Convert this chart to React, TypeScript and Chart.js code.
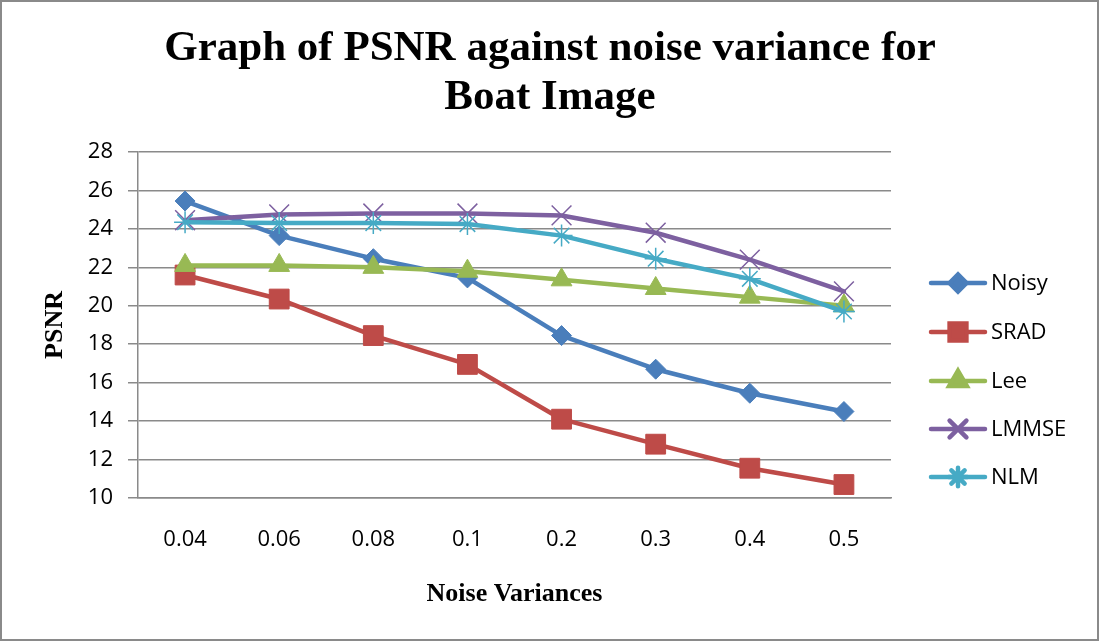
import React, { useEffect, useRef } from "react";
import { Chart, registerables } from "chart.js";
import { drawPoint } from "chart.js/helpers";

Chart.register(...registerables);

// Noise variance levels (x categories)
const variances = ["0.04", "0.06", "0.08", "0.1", "0.2", "0.3", "0.4", "0.5"];

// PSNR (dB) per filter
const noisy = [25.45, 23.65, 22.45, 21.45, 18.45, 16.7, 15.45, 14.5];
const srad = [21.6, 20.35, 18.45, 16.95, 14.1, 12.8, 11.55, 10.7];
const lee = [22.1, 22.1, 22.0, 21.8, 21.35, 20.9, 20.45, 20.0];
const lmmse = [24.45, 24.75, 24.8, 24.8, 24.7, 23.8, 22.4, 20.75];
const nlm = [24.35, 24.3, 24.3, 24.25, 23.65, 22.45, 21.4, 19.7];

const yTicks = [10, 12, 14, 16, 18, 20, 22, 24, 26, 28];

const titleLines = ["Graph of PSNR against noise variance for", "Boat Image"];
const xTitle = "Noise Variances";
const yTitle = "PSNR";

const W = 1099;
const H = 641;
const TICK_FONT = "'Open Sans', 'Liberation Sans', sans-serif";
const SERIF = "'Liberation Serif', 'Times New Roman', serif";

type SeriesStyle = {
  label: string;
  data: number[];
  color: string;
  pointStyle: string;
  radius: number;
  pointBorderWidth: number;
};

const series: SeriesStyle[] = [
  { label: "Noisy", data: noisy, color: "#4A7EBB", pointStyle: "rectRot", radius: 10, pointBorderWidth: 1 },
  { label: "SRAD", data: srad, color: "#BE4B48", pointStyle: "rect", radius: 14, pointBorderWidth: 1 },
  { label: "Lee", data: lee, color: "#98B954", pointStyle: "triangle", radius: 12, pointBorderWidth: 1 },
  { label: "LMMSE", data: lmmse, color: "#7D60A0", pointStyle: "crossRot", radius: 14, pointBorderWidth: 1.5 },
  { label: "NLM", data: nlm, color: "#46AAC5", pointStyle: "star", radius: 11, pointBorderWidth: 1.5 },
];

// Titles, side legend and outer frame drawn on top of the chart
const decorations = {
  id: "decorations",
  afterDraw(chart: Chart) {
    const ctx = chart.ctx;
    const area = chart.chartArea;
    ctx.save();

    // frame
    ctx.strokeStyle = "#8a8a8a";
    ctx.lineWidth = 2;
    ctx.strokeRect(1, 1, W - 2, H - 2);

    // main title
    ctx.fillStyle = "#000";
    ctx.font = `bold 43px ${SERIF}`;
    ctx.textAlign = "center";
    ctx.textBaseline = "alphabetic";
    ctx.fillText(titleLines[0], 550, 60);
    ctx.fillText(titleLines[1], 550, 109);

    // x axis title
    ctx.font = `bold 26px ${SERIF}`;
    ctx.fillText(xTitle, (area.left + area.right) / 2, 601);

    // y axis title
    ctx.save();
    ctx.translate(62, (area.top + area.bottom) / 2);
    ctx.rotate(-Math.PI / 2);
    ctx.fillText(yTitle, 0, 0);
    ctx.restore();

    // legend
    const rows = [283, 332, 381, 429, 477];
    series.forEach((s, i) => {
      const y = rows[i];
      ctx.strokeStyle = s.color;
      ctx.lineWidth = 4.5;
      ctx.lineCap = "round";
      ctx.beginPath();
      ctx.moveTo(931, y);
      ctx.lineTo(985, y);
      ctx.stroke();
      ctx.fillStyle = s.color;
      ctx.strokeStyle = s.color;
      drawPoint(
        ctx,
        { pointStyle: s.pointStyle as any, radius: s.radius * 0.85, borderWidth: s.pointBorderWidth, rotation: 0 },
        958,
        y
      );
      ctx.fillStyle = "#000";
      ctx.font = `22px ${TICK_FONT}`;
      ctx.textAlign = "left";
      ctx.textBaseline = "middle";
      ctx.fillText(s.label, 991, y + 1);
    });

    ctx.restore();
  },
};

export default function App() {
  const canvasRef = useRef<HTMLCanvasElement | null>(null);

  useEffect(() => {
    const canvas = canvasRef.current;
    if (!canvas) return;
    const chart = new Chart(canvas, {
      type: "line",
      data: {
        labels: variances,
        datasets: series.map((s, i) => ({
          label: s.label,
          data: s.data,
          borderColor: s.color,
          backgroundColor: s.color,
          pointBackgroundColor: s.color,
          pointBorderColor: s.color,
          pointStyle: s.pointStyle as any,
          pointRadius: s.radius,
          pointBorderWidth: s.pointBorderWidth,
          borderWidth: 4.5,
          borderCapStyle: "round",
          borderJoinStyle: "round",
          tension: 0,
          fill: false,
          order: series.length - i,
        })),
      },
      options: {
        animation: false,
        responsive: false,
        maintainAspectRatio: false,
        layout: { padding: { top: 152, right: 208, bottom: 0, left: 0 } },
        plugins: {
          legend: { display: false },
          title: { display: false },
          tooltip: { enabled: false },
        },
        scales: {
          x: {
            offset: true,
            grid: { display: false, drawTicks: false, offset: true },
            border: { display: true, color: "#8a8a8a", width: 1.5 },
            ticks: {
              color: "#000",
              font: { family: TICK_FONT, size: 22 },
              padding: 29,
              maxRotation: 0,
            },
            afterFit(scale: any) {
              scale.height = 143;
            },
          },
          y: {
            min: 10,
            max: 28,
            afterBuildTicks(scale: any) {
              scale.ticks = yTicks.map((v) => ({ value: v }));
            },
            grid: { color: "#8a8a8a", lineWidth: 1.5, tickLength: 10, drawTicks: true },
            border: { display: true, color: "#8a8a8a", width: 1.5 },
            ticks: {
              color: "#000",
              font: { family: TICK_FONT, size: 22 },
              padding: 15,
            },
            afterFit(scale: any) {
              scale.width = 138;
            },
          },
        },
      },
      plugins: [decorations],
    });
    return () => chart.destroy();
  }, []);

  return (
    <div style={{ position: "absolute", left: 0, top: 0, width: W, height: H, background: "#fff" }}>
      <canvas ref={canvasRef} width={W} height={H} style={{ display: "block", width: W, height: H }} />
    </div>
  );
}
